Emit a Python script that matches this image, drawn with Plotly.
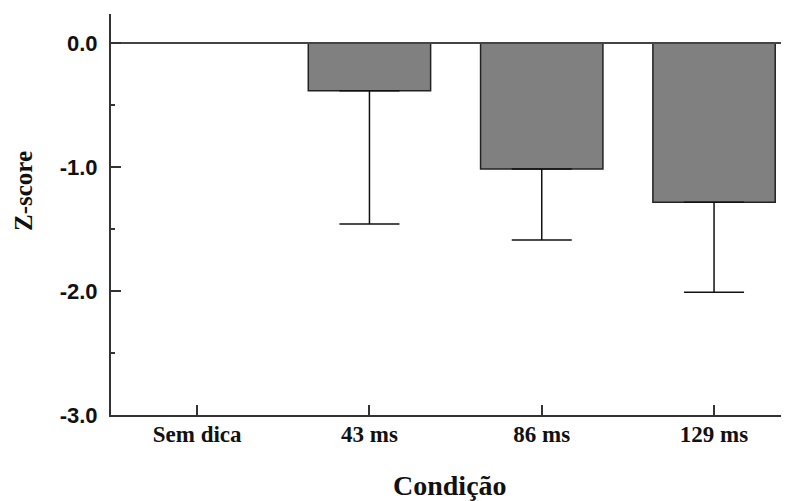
import plotly.graph_objects as go

categories = ["Sem dica", "43 ms", "86 ms", "129 ms"]
means = [0.0, -0.385, -1.016, -1.285]
err_minus = [0.0, 1.075, 0.573, 0.725]
err_plus = [0.0, 0.0, 0.0, 0.0]
ytick_vals = [0.0, -1.0, -2.0, -3.0]
ytick_text = ["0.0", "-1.0", "-2.0", "-3.0"]

outline = ["rgba(0,0,0,0)" if v == 0 else "#222222" for v in means]

fig = go.Figure()
fig.add_trace(go.Bar(
    x=categories, y=means, width=0.71,
    marker=dict(color="#808080", line=dict(color=outline, width=1.5)),
    error_y=dict(type="data", symmetric=False, array=err_plus, arrayminus=err_minus,
                 color="#111111", thickness=1.5, width=30),
))

fig.update_layout(
    width=781, height=493,
    margin=dict(l=103, r=0, t=6, b=86),
    plot_bgcolor="white", paper_bgcolor="white",
    showlegend=False,
    bargap=0.29,
    xaxis=dict(
        range=[-0.5, 3.435], showline=True, linecolor="#333333", linewidth=2,
        ticks="inside", ticklen=10, tickwidth=1.5, tickcolor="#333333",
        tickfont=dict(family="Liberation Serif", size=23, color="#111111", weight="bold"),
        ticklabelstandoff=-3, showgrid=False, zeroline=False,
    ),
    yaxis=dict(
        range=[-3.0, 0.234], showline=True, linecolor="#333333", linewidth=2,
        tickvals=ytick_vals, ticktext=ytick_text,
        ticks="inside", ticklen=10, tickwidth=1.5, tickcolor="#333333",
        minor=dict(tickvals=[-0.5, -1.5, -2.5], ticks="inside", ticklen=4,
                   tickwidth=1.5, tickcolor="#333333", showgrid=False),
        tickfont=dict(family="Liberation Sans", size=22, color="#111111", weight="bold"),
        ticklabelstandoff=7, showgrid=False,
        zeroline=True, zerolinecolor="#444444", zerolinewidth=2,
    ),
    annotations=[
        dict(text="<b>Condição</b>", xref="paper", yref="paper", x=0.5, y=-0.1746,
             xanchor="center", yanchor="middle", showarrow=False,
             font=dict(family="Liberation Serif", size=28, color="#111111")),
        dict(text="<b>Z-score</b>", xref="paper", yref="paper", x=-0.1298, y=0.5586,
             xanchor="center", yanchor="middle", showarrow=False, textangle=-90,
             font=dict(family="Liberation Serif", size=25, color="#111111")),
    ],
)

try:
    fig.update_yaxes(zerolinelayer="above traces")
except Exception:
    pass

fig.write_html("out.html")
